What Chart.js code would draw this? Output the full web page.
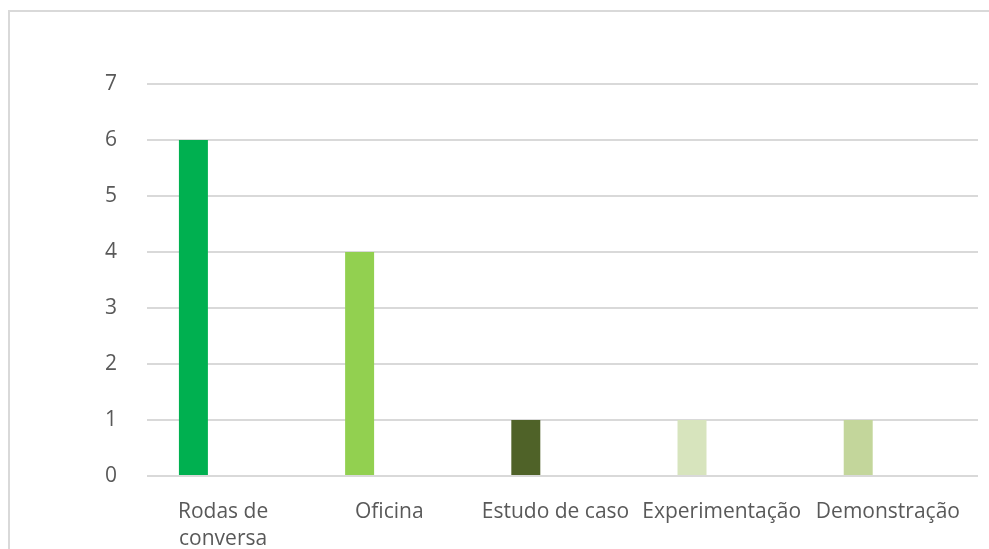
<!DOCTYPE html>
<html>
<head>
<meta charset="utf-8">
<script src="https://cdn.jsdelivr.net/npm/chart.js@4.4.0/dist/chart.umd.min.js"></script>
<style>
  html, body { margin: 0; padding: 0; background: #fff; overflow: hidden; }
  #frame { position: absolute; left: 8px; top: 10px; width: 1200px; height: 800px; border: 2px solid #d9d9d9; box-sizing: border-box; }
  #wrap { position: absolute; left: 0; top: 0; width: 989px; height: 549px; }
</style>
</head>
<body>
<div id="frame"></div>
<div id="wrap"><canvas id="graph_ID" width="989" height="549"></canvas></div>
<script>
  // categorias (com quebra de linha como no original)
  var categorias = [['Rodas de', 'conversa'], 'Oficina', 'Estudo de caso', 'Experimentação', 'Demonstração'];
  var valores = [6, 4, 1, 1, 1];
  var serieVazia = [null, null, null, null, null];
  var cores = ['#00B050', '#92D050', '#4F6228', '#D7E4BD', '#C3D69B'];
  var yTicks = [0, 1, 2, 3, 4, 5, 6, 7];

  var fonte = { family: 'Open Sans', size: 21 };

  var ctx = document.getElementById("graph_ID").getContext("2d");
  var graphique = new Chart(ctx, {
    type: 'bar',
    data: {
      labels: categorias,
      datasets: [
        {
          label: 'Série 1',
          data: valores,
          backgroundColor: cores,
          borderWidth: 0,
          categoryPercentage: 0.883,
          barPercentage: 0.395
        },
        {
          label: 'Série 2',
          data: serieVazia,
          backgroundColor: 'rgba(0,0,0,0)',
          categoryPercentage: 0.883,
          barPercentage: 0.395
        }
      ]
    },
    options: {
      responsive: false,
      animation: false,
      layout: { padding: { left: 0, right: 11, top: 84, bottom: 0 } },
      scales: {
        x: {
          grid: { display: false },
          border: { display: false },
          ticks: {
            color: '#595959',
            font: { family: fonte.family, size: fonte.size, lineHeight: 1.3 },
            padding: 14,
            maxRotation: 0,
            autoSkip: false,
            labelOffset: -7
          },
          afterFit: function (scale) { scale.height = 73; }
        },
        y: {
          min: 0,
          max: 7,
          afterBuildTicks: function (scale) {
            scale.ticks = yTicks.map(function (v) { return { value: v }; });
          },
          grid: { color: '#d9d9d9', lineWidth: 2, drawTicks: false },
          border: { display: false },
          ticks: {
            color: '#595959',
            font: fonte,
            padding: 30
          },
          afterFit: function (scale) { scale.width = 147; }
        }
      },
      plugins: {
        legend: { display: false },
        tooltip: { enabled: false }
      }
    }
  });
</script>
</body>
</html>
